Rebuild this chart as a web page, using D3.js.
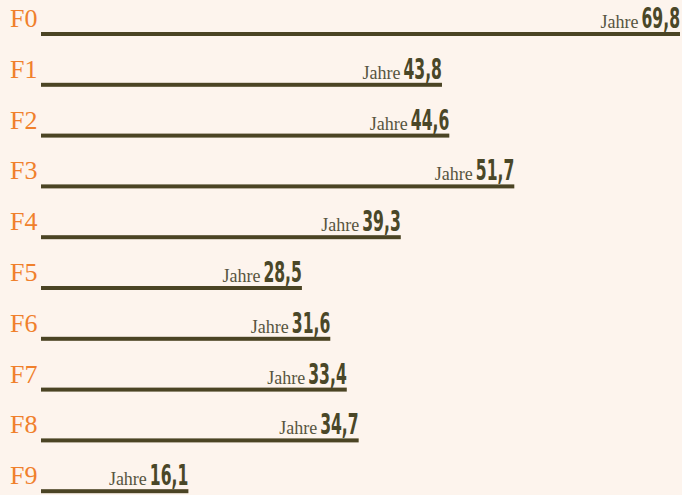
<!DOCTYPE html>
<html><head><meta charset="utf-8">
<script src="https://cdn.jsdelivr.net/npm/d3@7/dist/d3.min.js"></script>
<style>
html,body{margin:0;padding:0;background:#fdf4ed;}
svg{display:block;}
</style></head><body>
<script>
const categories = ["F0","F1","F2","F3","F4","F5","F6","F7","F8","F9"];
const values = [69.8,43.8,44.6,51.7,39.3,28.5,31.6,33.4,34.7,16.1];
const unitLabel = "Jahre";

const W = 682, H = 495;
const svg = d3.select("body").append("svg").attr("width", W).attr("height", H);
svg.append("rect").attr("width", W).attr("height", H).attr("fill", "#fdf4ed");

const x = d3.scaleLinear().domain([0, 69.8]).range([41, 680]);
const y = d3.scaleBand().domain(categories).range([0, 508]);

const data = categories.map((c, i) => ({c, v: values[i]}));
const barOff = 34;
const squeeze = 0.62;

const g = svg.selectAll("g.row").data(data).join("g").attr("class", "row")
  .attr("transform", d => `translate(0,${y(d.c) + barOff})`);

g.append("rect")
  .attr("x", x(0)).attr("y", -2)
  .attr("width", d => x(d.v) - x(0)).attr("height", 4)
  .attr("fill", "#4b4424");

g.append("text")
  .attr("x", 10).attr("y", -7)
  .attr("font-family", "Liberation Serif, serif")
  .attr("font-size", 26)
  .attr("fill", "#f0802c")
  .text(d => d.c);

const num = g.append("text")
  .attr("transform", d => `translate(${x(d.v)},-6) scale(${squeeze},1)`)
  .attr("text-anchor", "end")
  .attr("font-family", "DejaVu Sans Condensed, DejaVu Sans, sans-serif")
  .attr("font-weight", "bold")
  .attr("font-size", 28)
  .attr("fill", "#4a4728")
  .text(d => d3.format(".1f")(d.v).replace(".", ","));

num.each(function(d) { d.nw = this.getComputedTextLength() * squeeze; });

g.append("text")
  .attr("x", d => x(d.v) - d.nw - 3).attr("y", -6)
  .attr("text-anchor", "end")
  .attr("font-family", "Liberation Serif, serif")
  .attr("font-size", 18)
  .attr("fill", "#57553f")
  .text(unitLabel);
</script>
</body></html>
